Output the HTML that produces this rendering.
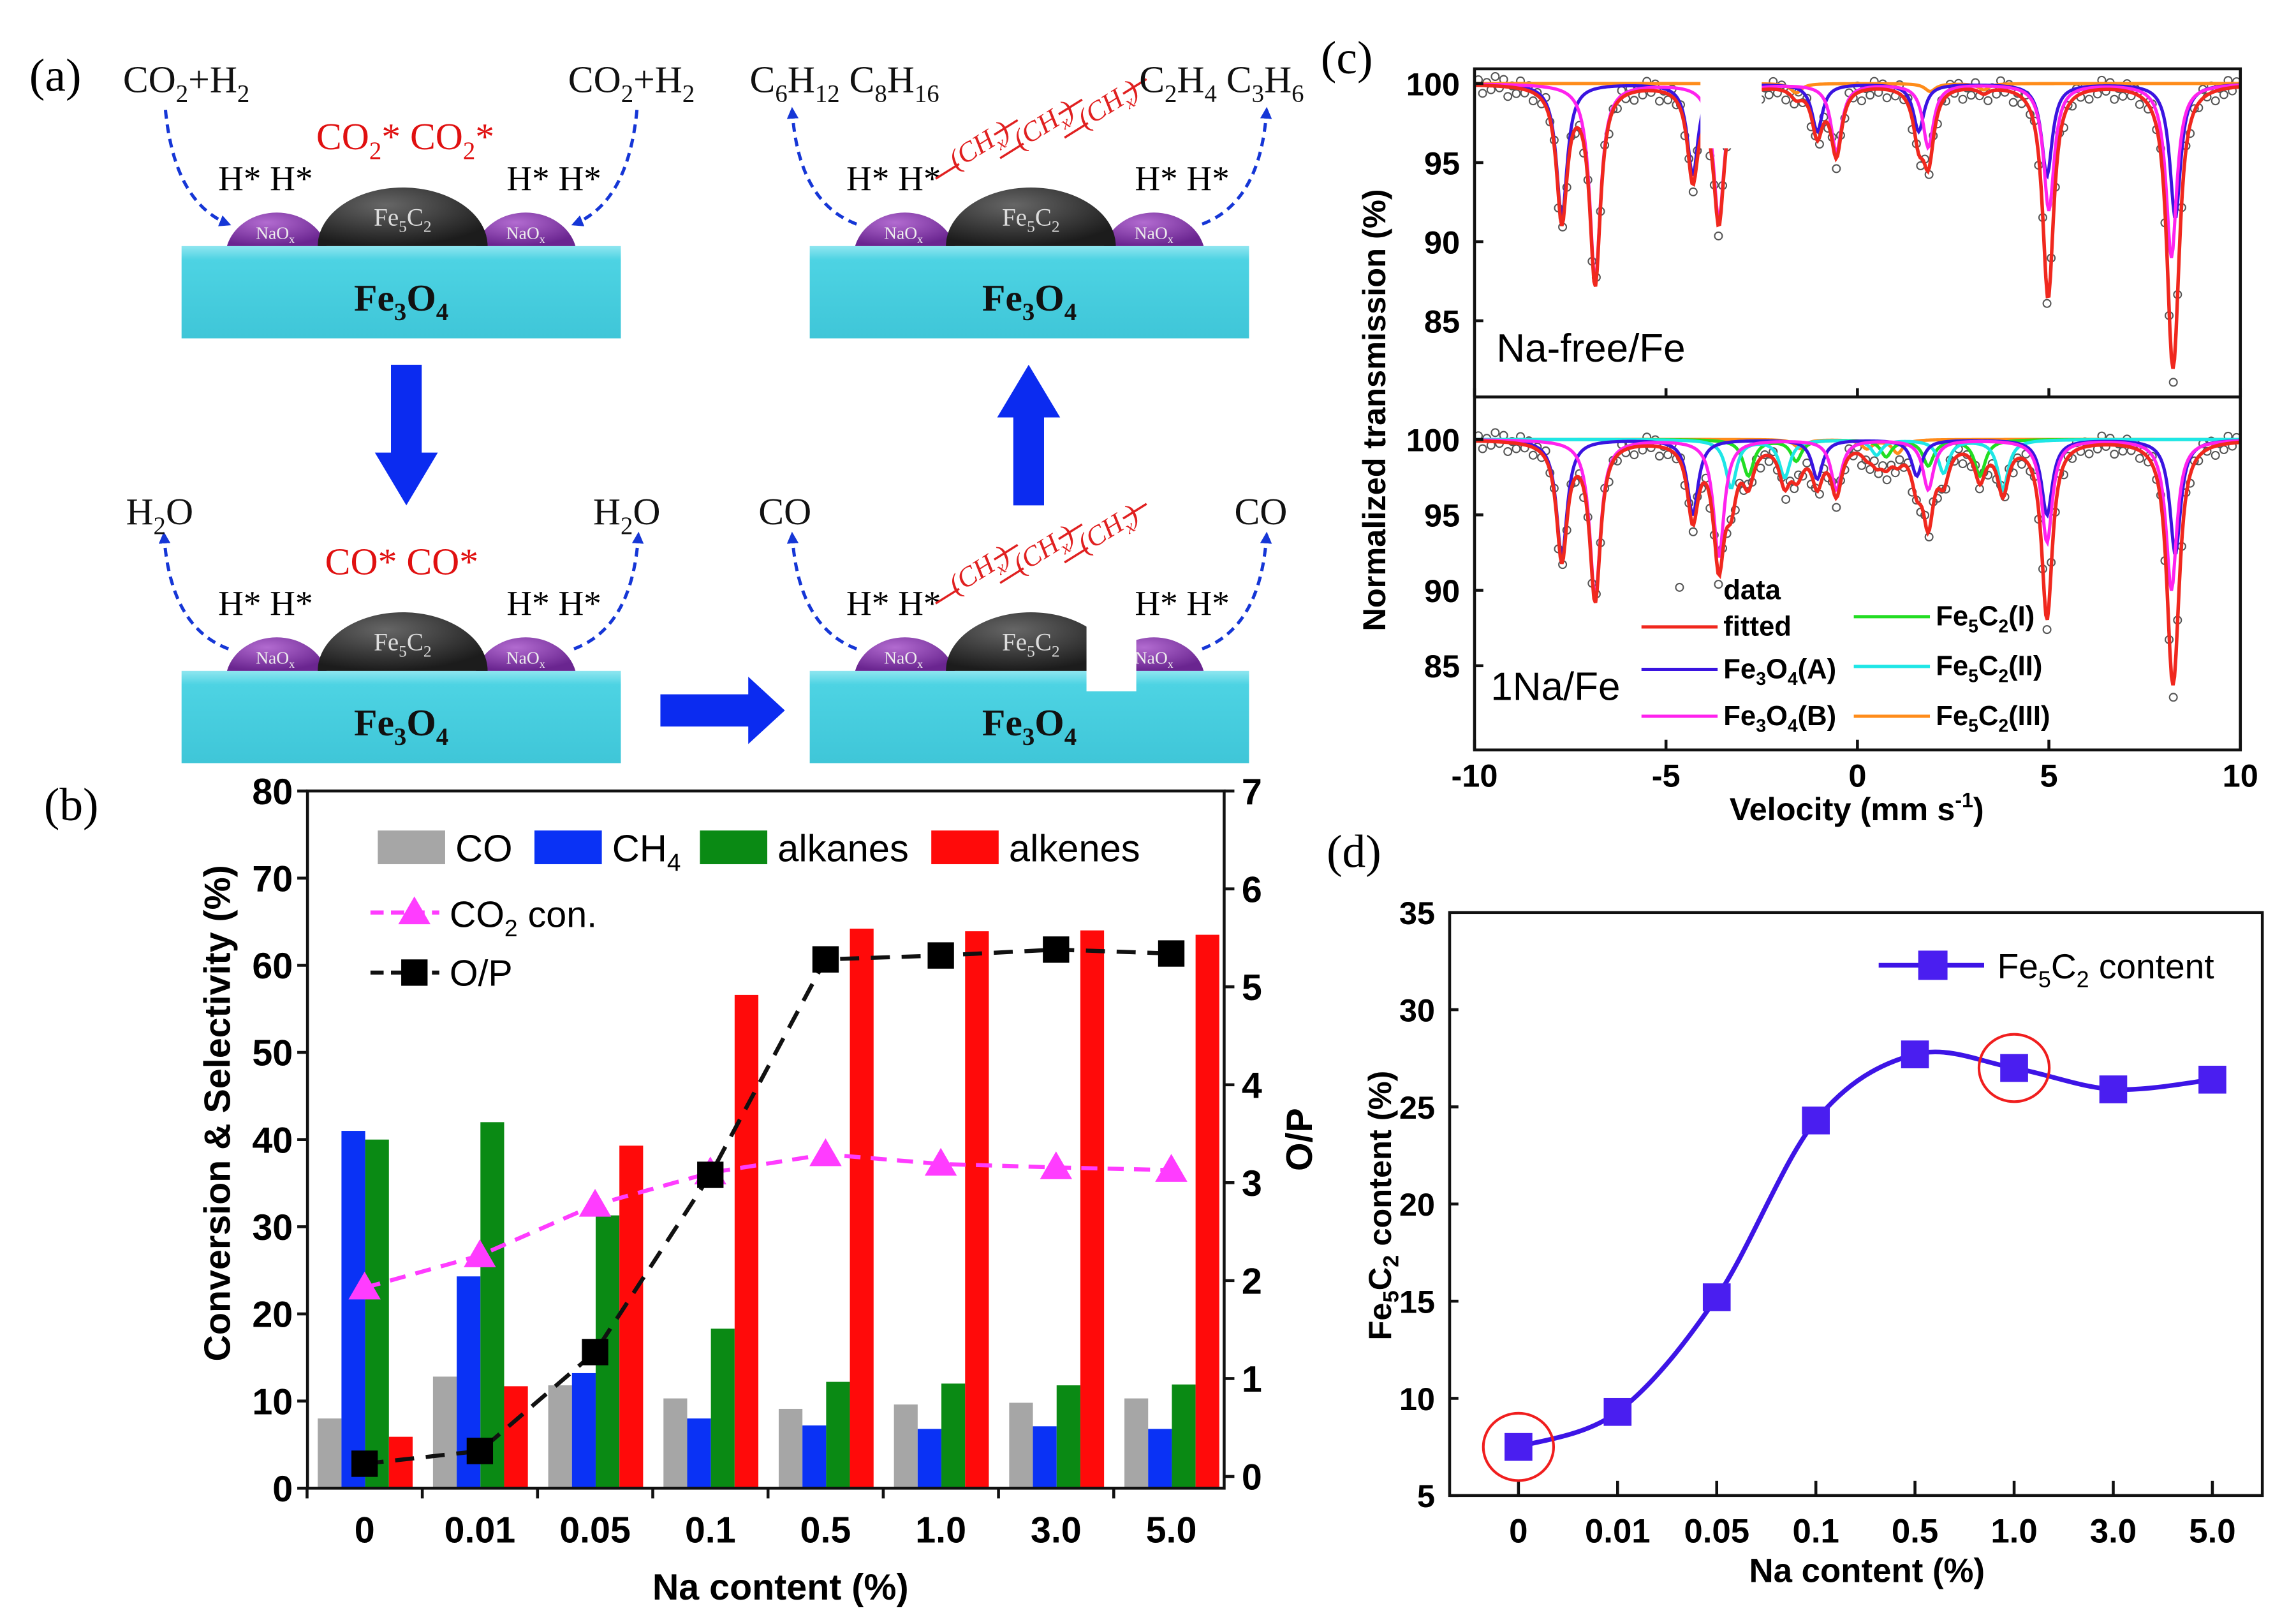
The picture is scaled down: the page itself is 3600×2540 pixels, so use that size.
<!DOCTYPE html>
<html><head><meta charset="utf-8"><style>
html,body{margin:0;padding:0;background:#fff;}
svg{display:block;}
text{font-family:"Liberation Sans",Arial,sans-serif;}
.serif{font-family:"Liberation Serif","Times New Roman",serif;}
</style></head><body>
<svg id="root" xmlns="http://www.w3.org/2000/svg" width="3600" height="2540" viewBox="0 0 1568 1106" preserveAspectRatio="none">
<defs>
<linearGradient id="boxg" x1="0" y1="0" x2="0" y2="1"><stop offset="0" stop-color="#8fe6f0"/><stop offset="0.15" stop-color="#4dd3e3"/><stop offset="1" stop-color="#3fc6d8"/></linearGradient>
<radialGradient id="domeg" cx="0.4" cy="0.3" r="0.7"><stop offset="0" stop-color="#666"/><stop offset="1" stop-color="#1c1c1c"/></radialGradient>
<radialGradient id="nag" cx="0.4" cy="0.3" r="0.7"><stop offset="0" stop-color="#b26bd0"/><stop offset="1" stop-color="#6a2590"/></radialGradient>
<marker id="ah" markerWidth="8" markerHeight="8" refX="6" refY="4" orient="auto" markerUnits="userSpaceOnUse"><path d="M0,0 L8,4 L0,8 z" fill="#1536d6"/></marker>
<clipPath id="clipTop"><rect x="1007" y="47" width="523" height="224"/></clipPath>
<clipPath id="clipBot"><rect x="1007" y="271" width="523" height="241"/></clipPath>
</defs>
<g id="panelA"></g>
<g id="panelB"></g>
<g id="panelC"></g>
<g id="panelD"></g>
</svg>
<script>
// ---------- data: panel b ----------
const bCategories = ["0","0.01","0.05","0.1","0.5","1.0","3.0","5.0"];
const bCO = [8.0,12.8,11.8,10.3,9.1,9.6,9.8,10.3];
const bCH4 = [41.0,24.3,13.2,8.0,7.2,6.8,7.1,6.8];
const bAlkanes = [40.0,42.0,31.3,18.3,12.2,12.0,11.8,11.9];
const bAlkenes = [5.9,11.7,39.3,56.6,64.2,63.9,64.0,63.5];
const bCO2con = [23.0,26.7,32.5,36.2,38.3,37.2,36.8,36.5];
const bOP = [0.13,0.26,1.27,3.08,5.28,5.32,5.38,5.34];
const bLeftTicks = [0,10,20,30,40,50,60,70,80];
const bRightTicks = [0,1,2,3,4,5,6,7];
// ---------- data: panel d ----------
const dCategories = ["0","0.01","0.05","0.1","0.5","1.0","3.0","5.0"];
const dFe5C2 = [7.5,9.3,15.2,24.3,27.7,27.0,25.9,26.4];
const dTicks = [5,10,15,20,25,30,35];
const dCircled = [0,5];
// ---------- data: panel c (Lorentzian line parameters) ----------
const cXTicks = [-10,-5,0,5,10];
const cYTicks = [85,90,95,100];
const topA_pos = [-7.72,-4.3,-1.05,1.6,4.95,8.3];
const topA_depth = [8.5,5.8,3,3,5.8,8.5];
const topB_pos = [-6.85,-3.62,-0.55,1.85,5.0,8.2];
const topB_depth = [12.5,8.6,4.3,4.0,8.0,11.0];
const topC3_pos = [-1.6,1.9,3.3];
const topC3_depth = [0.6,0.5,0.4];
const botA_pos = [-7.72,-4.3,-1.05,1.55,4.95,8.3];
const botA_depth = [7.8,5.0,2.6,2.4,5.0,7.6];
const botB_pos = [-6.85,-3.62,-0.55,1.85,4.95,8.2];
const botB_depth = [10.5,7.8,3.3,3.3,6.8,10.0];
const botC1_pos = [-2.85,-1.6,0.75,1.85,3.2];
const botC1_depth = [2.4,1.4,1.1,1.7,2.4];
const botC2_pos = [-3.3,-1.9,0.5,2.25,3.8];
const botC2_depth = [3.2,2.5,1.0,2.2,3.3];
const botC3_pos = [-1.5,0.25,1.05];
const botC3_depth = [0.6,0.6,0.9];
const dataJitter = [0.35,-0.5,0.2,-0.25,0.6,-0.1,0.45,-0.6,0.1,-0.35,0.5,-0.2];

const NS="http://www.w3.org/2000/svg";
function mk(parent,tag,attrs,txt){const e=document.createElementNS(NS,tag);for(const k in attrs)e.setAttribute(k,attrs[k]);if(txt!==undefined)e.textContent=txt;parent.appendChild(e);return e;}
function chem(parent,x,y,parts,size,attrs){
  const t=mk(parent,'text',Object.assign({x:x,y:y,'font-size':size},attrs||{}));
  parts.forEach((p,i)=>{if(p==='')return;const s=i%2===1;mk(t,'tspan',s?{'font-size':size*0.65,dy:size*0.25}:{dy:(i>0&&parts[i-1]!=='')?-size*0.25:0},p);});
  return t;
}

// ================= PANEL A =================
const A=document.getElementById('panelA');
const lblA=mk(A,'text',{x:20,y:62,'font-size':32,class:'serif'},'(a)');


function unit(x0,y0,opt){
  const g=mk(A,'g',{});
  
  
  const box=mk(g,'rect',{x:x0,y:y0,width:300,height:63,fill:'url(#boxg)'});
  
  
  const bt=chem(g,x0+150,y0+44,['Fe','3','O','4'],26,{class:'serif','text-anchor':'middle','font-weight':'bold','fill':'#111'});
  
  
  const cx=x0+151;
  const n1=mk(g,'path',{d:`M${cx-120},${y0} A35,30 0 0 1 ${cx-52},${y0} Z`,fill:'url(#nag)'});
  
  
  const n2=mk(g,'path',{d:`M${cx+50},${y0} A35,30 0 0 1 ${cx+118},${y0} Z`,fill:'url(#nag)'});
  
  
  const dm=mk(g,'path',{d:`M${cx-58},${y0} A58,40 0 0 1 ${cx+58},${y0} Z`,fill:'url(#domeg)'});
  
  
  const dt=chem(g,cx,y0-14,['Fe','5','C','2'],17,{class:'serif','text-anchor':'middle',fill:'#ddd'});
  
  
  [cx-87,cx+84].forEach(nx=>{const t=chem(g,nx,y0-5,['NaO','x'],12,{class:'serif','text-anchor':'middle',fill:'#eee'});});
  const h1=mk(g,'text',{x:x0+25,y:y0-38,'font-size':24,class:'serif'},'H* H*');
  
  
  const h2=mk(g,'text',{x:x0+222,y:y0-38,'font-size':24,class:'serif'},'H* H*');
  
  
  const a1=mk(g,'path',{d:opt.inward?`M${x0-11},${y0-93} Q${x0-5},${y0-30} ${x0+32},${y0-15}`:`M${x0+32},${y0-15} Q${x0-8},${y0-30} ${x0-12},${y0-93}`,fill:'none',stroke:'#1536d6','stroke-width':2.2,'stroke-dasharray':'6,4','marker-end':'url(#ah)'});
  
  
  const a2=mk(g,'path',{d:opt.inward?`M${x0+311},${y0-93} Q${x0+305},${y0-30} ${x0+268},${y0-15}`:`M${x0+268},${y0-15} Q${x0+308},${y0-30} ${x0+312},${y0-93}`,fill:'none',stroke:'#1536d6','stroke-width':2.2,'stroke-dasharray':'6,4','marker-end':'url(#ah)'});
  
  
  if(opt.chain){
    for(let k=0;k<3;k++){
      const ox=x0+86+k*44, oy=y0-46-k*14;
      const l=mk(g,'path',{d:`M${ox},${oy} l16,-10 M${ox+40},${oy-30} l16,-10`,stroke:'#e02020','stroke-width':1.5,fill:'none'});
      
      
      const c=chem(g,ox+14,oy-6,['(CH','x',')'],19,{class:'serif',fill:'#e02020','font-style':'italic',transform:`rotate(-32 ${ox+14} ${oy-6})`});
      
      
    }
  }
  return g;
}
unit(124,168,{name:'step-co2-adsorption',inward:true});
unit(124,458,{name:'step-co-formation',inward:false});
unit(553,458,{name:'step-chain-growth',inward:false,chain:true});
unit(553,168,{name:'step-olefin-release',inward:false,chain:true});
function lab(x,y,parts,name,color,size){const t=chem(A,x,y,parts,size||26,{class:'serif',fill:color||'#111'});}
lab(84,63,['CO','2','+H','2'],'reactant-label-left');
lab(388,63,['CO','2','+H','2'],'reactant-label-right');
lab(216,102,['CO','2','* CO','2','*'],'co2-adsorbed-label','#e01010');
lab(86,358,['H','2','O'],'water-label-left');
lab(405,358,['H','2','O'],'water-label-right');
lab(222,392,['CO*  CO*'],'co-adsorbed-label','#e01010');
lab(518,358,['CO'],'co-label-left');
lab(843,358,['CO'],'co-label-right');
lab(512,63,['C','6','H','12',' C','8','H','16'],'product-label-left');
lab(778,63,['C','2','H','4',' C','3','H','6'],'product-label-right');
function blockArrow(d,name){const p=mk(A,'path',{d:d,fill:'#0b2bf0'});}
blockArrow('M267,249 h21 v60 h11 l-21.5,36 l-21.5,-36 h11 z','arrow-down');
blockArrow('M692,345 h21 v-60 h11 l-21.5,-36 l-21.5,36 h11 z','arrow-up');
blockArrow('M451,474 h60 v-12 l25,23 l-25,23 v-12 h-60 z','arrow-right');
const wr=mk(A,'rect',{x:742,y:425,width:34,height:47,fill:'#fff'});



// ================= PANEL B =================
const B=document.getElementById('panelB');
const bL=210,bR=836,bT=540,bB=1016;
const yL=v=>bB-v*(bB-bT)/80;
const yR=v=>1008-v*(1008-bT)/7;
const xC=i=>249+i*78.7;
const lb=mk(B,'text',{x:30,y:560,'font-size':32,class:'serif'},'(b)');


const seriesB=[[bCO,'#a6a6a6','bar-co'],[bCH4,'#0a32f5','bar-ch4'],[bAlkanes,'#0a8a14','bar-alkanes'],[bAlkenes,'#ff0a0a','bar-alkenes']];
seriesB.forEach((s,si)=>{s[0].forEach((v,i)=>{
  const r=mk(B,'rect',{x:xC(i)-32+si*16.2,y:yL(v),width:16.2,height:bB-yL(v),fill:s[1]});
  
  
});});
const fr=mk(B,'rect',{x:bL,y:bT,width:bR-bL,height:bB-bT,fill:'none',stroke:'#111','stroke-width':2});


bLeftTicks.forEach(v=>{
  const t=mk(B,'line',{x1:bL-7,x2:bL,y1:yL(v),y2:yL(v),stroke:'#111','stroke-width':2});
  
  
  const tx=mk(B,'text',{x:bL-10,y:yL(v)+9,'font-size':25,'font-weight':'bold','text-anchor':'end'},String(v));
  
  
});
bRightTicks.forEach(v=>{
  const t=mk(B,'line',{x1:bR,x2:bR+7,y1:yR(v),y2:yR(v),stroke:'#111','stroke-width':2});
  
  
  const tx=mk(B,'text',{x:bR+12,y:yR(v)+9,'font-size':25,'font-weight':'bold'},String(v));
  
  
});
bCategories.forEach((c,i)=>{
  const t=mk(B,'line',{x1:xC(i)-39.3,x2:xC(i)-39.3,y1:bB,y2:bB+7,stroke:'#111','stroke-width':2});
  
  
  const tx=mk(B,'text',{x:xC(i),y:1053,'font-size':25,'font-weight':'bold','text-anchor':'middle'},c);
  
  
});
function polyline(parent,pts,attrs){return mk(parent,'polyline',Object.assign({points:pts.map(p=>p.join(',')).join(' '),fill:'none'},attrs));}
const co2Line=polyline(B,bCO2con.map((v,i)=>[xC(i),yL(v)]),{stroke:'#ff3cff','stroke-width':2.8,'stroke-dasharray':'11,7'});


const opLine=polyline(B,bOP.map((v,i)=>[xC(i),yR(v)]),{stroke:'#111','stroke-width':2.8,'stroke-dasharray':'13,8'});


bCO2con.forEach((v,i)=>{
  const x=xC(i),y=yL(v);
  const m=mk(B,'path',{d:`M${x},${y-11} L${x+11},${y+8} L${x-11},${y+8} Z`,fill:'#ff3cff'});
  
  
});
bOP.forEach((v,i)=>{
  const m=mk(B,'rect',{x:xC(i)-9,y:yR(v)-9,width:18,height:18,fill:'#000'});
  
  
});
const legB=mk(B,'g',{});


[[258,'#a6a6a6',['CO']],[365,'#0a32f5',['CH','4']],[478,'#0a8a14',['alkanes']],[636,'#ff0a0a',['alkenes']]].forEach(e=>{
  const r=mk(legB,'rect',{x:e[0],y:567,width:46,height:23,fill:e[1]});
  
  
  const t=chem(legB,e[0]+53,588,e[2],26,{});
  
  
});
const l1=mk(legB,'line',{x1:253,x2:300,y1:623,y2:623,stroke:'#ff3cff','stroke-width':2.8,'stroke-dasharray':'9,5'});


const l1m=mk(legB,'path',{d:'M283,612 L294,631 L272,631 Z',fill:'#ff3cff'});


const l1t=chem(legB,307,633,['CO','2',' con.'],25,{});


const l2=mk(legB,'line',{x1:253,x2:300,y1:664,y2:664,stroke:'#111','stroke-width':2.8,'stroke-dasharray':'9,5'});


const l2m=mk(legB,'rect',{x:274,y:655,width:18,height:18,fill:'#000'});


const l2t=mk(legB,'text',{x:307,y:673,'font-size':25},'O/P');


const byt=mk(B,'text',{x:157,y:760,'font-size':25,'font-weight':'bold','text-anchor':'middle',transform:'rotate(-90 157 760)'},'Conversion & Selectivity (%)');


const bry=mk(B,'text',{x:896,y:778,'font-size':25,'font-weight':'bold','text-anchor':'middle',transform:'rotate(-90 896 778)'},'O/P');


const bxt=mk(B,'text',{x:533,y:1092,'font-size':25,'font-weight':'bold','text-anchor':'middle'},'Na content (%)');



// ================= PANEL C =================
const C=document.getElementById('panelC');
const cL=1007,cR=1530,cT=47,cM=271,cBt=512;
const xV=v=>cL+(v+10)*(cR-cL)/20;
const yTop=v=>57+(100-v)*10.8;
const yBot=v=>300+(100-v)*10.3;
const lc=mk(C,'text',{x:902,y:50,'font-size':32,class:'serif'},'(c)');


const W=0.17;
function lor(pos,dep,v){let s=0;for(let i=0;i<pos.length;i++){const d=(v-pos[i])/W;s+=dep[i]/(1+d*d);}return s;}
function curve(parent,comps,yf,color,name,clip,width){
  const pts=[];for(let v=-10;v<=10.001;v+=0.04){let s=0;comps.forEach(c=>s+=lor(c[0],c[1],v));pts.push([xV(v).toFixed(2),yf(100-s).toFixed(2)]);}
  const p=polyline(parent,pts,{stroke:color,'stroke-width':width||2.2,'clip-path':clip});
  
  
}
function dataPts(parent,comps,yf,name,clip){
  const g=mk(parent,'g',{'clip-path':clip});
  
  
  let k=0;for(let v=-9.9;v<=9.9;v+=0.11){let s=0;comps.forEach(c=>s+=lor(c[0],c[1],v));const y=100-s*1.03+dataJitter[k%dataJitter.length];k++;
    const c=mk(g,'circle',{cx:xV(v),cy:yf(y),r:2.6,fill:'none',stroke:'#555','stroke-width':0.9});
    
    }
}
const topAll=[[topA_pos,topA_depth],[topB_pos,topB_depth],[topC3_pos,topC3_depth]];
const botAll=[[botA_pos,botA_depth],[botB_pos,botB_depth],[botC1_pos,botC1_depth],[botC2_pos,botC2_depth],[botC3_pos,botC3_depth]];
dataPts(C,topAll,yTop,'top-data-points','url(#clipTop)');
curve(C,[[topC3_pos,topC3_depth]],yTop,'#ff8c1a','top-fe5c2-iii-line','url(#clipTop)');
curve(C,[[topA_pos,topA_depth]],yTop,'#3a14e0','top-fe3o4-a-line','url(#clipTop)');
curve(C,[[topB_pos,topB_depth]],yTop,'#ff22ee','top-fe3o4-b-line','url(#clipTop)');
curve(C,topAll,yTop,'#f0281e','top-fitted-line','url(#clipTop)',2.4);
const gap=mk(C,'rect',{x:xV(-4.1),y:cT+1,width:xV(-2.5)-xV(-4.1),height:yTop(96)-cT,fill:'#fff'});


dataPts(C,botAll,yBot,'bottom-data-points','url(#clipBot)');
curve(C,[[botC3_pos,botC3_depth]],yBot,'#ff8c1a','bottom-fe5c2-iii-line','url(#clipBot)');
curve(C,[[botC1_pos,botC1_depth]],yBot,'#22dd22','bottom-fe5c2-i-line','url(#clipBot)');
curve(C,[[botC2_pos,botC2_depth]],yBot,'#1ee6e6','bottom-fe5c2-ii-line','url(#clipBot)');
curve(C,[[botA_pos,botA_depth]],yBot,'#3a14e0','bottom-fe3o4-a-line','url(#clipBot)');
curve(C,[[botB_pos,botB_depth]],yBot,'#ff22ee','bottom-fe3o4-b-line','url(#clipBot)');
curve(C,botAll,yBot,'#f0281e','bottom-fitted-line','url(#clipBot)',2.4);
const cf=mk(C,'rect',{x:cL,y:cT,width:cR-cL,height:cBt-cT,fill:'none',stroke:'#111','stroke-width':2});


const cdv=mk(C,'line',{x1:cL,x2:cR,y1:cM,y2:cM,stroke:'#111','stroke-width':2});


cYTicks.forEach(v=>{
  [[yTop,'top'],[yBot,'bottom']].forEach(([f,n])=>{
    const t=mk(C,'line',{x1:cL,x2:cL+6,y1:f(v),y2:f(v),stroke:'#111','stroke-width':2});
    
    
    const tx=mk(C,'text',{x:cL-10,y:f(v)+8,'font-size':22,'font-weight':'bold','text-anchor':'end'},String(v));
    
    
  });
});
cXTicks.forEach(v=>{
  [[cBt,-7],[cM,-6]].forEach(([yy,d])=>{
    const t=mk(C,'line',{x1:xV(v),x2:xV(v),y1:yy,y2:yy+d,stroke:'#111','stroke-width':2});
    
    
  });
  const tx=mk(C,'text',{x:xV(v),y:537,'font-size':22,'font-weight':'bold','text-anchor':'middle'},String(v));
  
  
});
const nf=mk(C,'text',{x:1022,y:247,'font-size':27},'Na-free/Fe');


const n1=mk(C,'text',{x:1018,y:478,'font-size':27},'1Na/Fe');


const legC=mk(C,'g',{});


const ldp=mk(legC,'circle',{cx:1147,cy:401,r:2.6,fill:'none',stroke:'#555','stroke-width':0.9});


const ld=mk(legC,'text',{x:1177,y:409,'font-size':19,'font-weight':'bold'},'data');


[[1121,428,'#f0281e',['fitted']],[1121,457,'#3a14e0',['Fe','3','O','4','(A)']],[1121,489,'#ff22ee',['Fe','3','O','4','(B)']],[1266,421,'#22dd22',['Fe','5','C','2','(I)']],[1266,455,'#1ee6e6',['Fe','5','C','2','(II)']],[1266,489,'#ff8c1a',['Fe','5','C','2','(III)']]].forEach(e=>{
  const l=mk(legC,'line',{x1:e[0],x2:e[0]+52,y1:e[1],y2:e[1],stroke:e[2],'stroke-width':2.2});
  
  
  const t=chem(legC,e[0]+56,e[1]+6,e[3],19,{'font-weight':'bold'});
  
  
});
const cyt=mk(C,'text',{x:946,y:280,'font-size':22,'font-weight':'bold','text-anchor':'middle',transform:'rotate(-90 946 280)'},'Normalized transmission (%)');


const cxt=mk(C,'text',{x:1268,y:560,'font-size':22,'font-weight':'bold','text-anchor':'middle'},'Velocity (mm s');


const sup=mk(cxt,'tspan',{dy:-9,'font-size':14},'-1');


const cl=mk(cxt,'tspan',{dy:9},')');



// ================= PANEL D =================
const D=document.getElementById('panelD');
const dL=990,dR=1545,dT=623,dB=1021;
const yD=v=>dB-(v-5)*(dB-dT)/30;
const xD=i=>1037+i*67.7;
const ldl=mk(D,'text',{x:906,y:592,'font-size':32,class:'serif'},'(d)');


const df=mk(D,'rect',{x:dL,y:dT,width:dR-dL,height:dB-dT,fill:'none',stroke:'#111','stroke-width':2});


dTicks.forEach(v=>{
  const t=mk(D,'line',{x1:dL,x2:dL+6,y1:yD(v),y2:yD(v),stroke:'#111','stroke-width':2});
  
  
  const tx=mk(D,'text',{x:dL-10,y:yD(v)+8,'font-size':22,'font-weight':'bold','text-anchor':'end'},String(v));
  
  
});
dCategories.forEach((c,i)=>{
  const t=mk(D,'line',{x1:xD(i),x2:xD(i),y1:dB,y2:dB-10,stroke:'#111','stroke-width':2});
  
  
  const tx=mk(D,'text',{x:xD(i),y:1053,'font-size':23,'font-weight':'bold','text-anchor':'middle'},c);
  
  
});
const P=dFe5C2.map((v,i)=>[xD(i),yD(v)]);
let dpath=`M${P[0][0]},${P[0][1]}`;
for(let i=0;i<P.length-1;i++){const p0=P[i-1]||P[i],p1=P[i],p2=P[i+1],p3=P[i+2]||P[i+1];
  dpath+=` C${p1[0]+(p2[0]-p0[0])/6},${p1[1]+(p2[1]-p0[1])/6} ${p2[0]-(p3[0]-p1[0])/6},${p2[1]-(p3[1]-p1[1])/6} ${p2[0]},${p2[1]}`;}
const dline=mk(D,'path',{d:dpath,fill:'none',stroke:'#3d14e6','stroke-width':3.2});


dFe5C2.forEach((v,i)=>{
  const m=mk(D,'rect',{x:xD(i)-9.5,y:yD(v)-9.5,width:19,height:19,fill:'#4a1ef0'});
  
  
});
dCircled.forEach(i=>{
  const c=mk(D,'ellipse',{cx:xD(i),cy:yD(dFe5C2[i]),rx:24,ry:23,fill:'none',stroke:'#f01e1e','stroke-width':1.8});
  
  
});
const dlegl=mk(D,'line',{x1:1283,x2:1355,y1:659,y2:659,stroke:'#3d14e6','stroke-width':3.2});


const dlegm=mk(D,'rect',{x:1310,y:649,width:20,height:20,fill:'#4a1ef0'});


const dlegt=chem(D,1364,668,['Fe','5','C','2',' content'],24,{});


const dyt=mk(D,'text',{x:0,y:0,'font-size':22,'font-weight':'bold','text-anchor':'middle',transform:'translate(950 823) rotate(-90)'});


const dyt1=mk(dyt,'tspan',{},'Fe');


const dyt2=mk(dyt,'tspan',{'font-size':15,dy:5},'5');


const dyt3=mk(dyt,'tspan',{dy:-5},'C');


const dyt4=mk(dyt,'tspan',{'font-size':15,dy:5},'2');


const dyt5=mk(dyt,'tspan',{dy:-5},' content (%)');


const dxt=mk(D,'text',{x:1275,y:1080,'font-size':23,'font-weight':'bold','text-anchor':'middle'},'Na content (%)');


</script>
</body></html>
